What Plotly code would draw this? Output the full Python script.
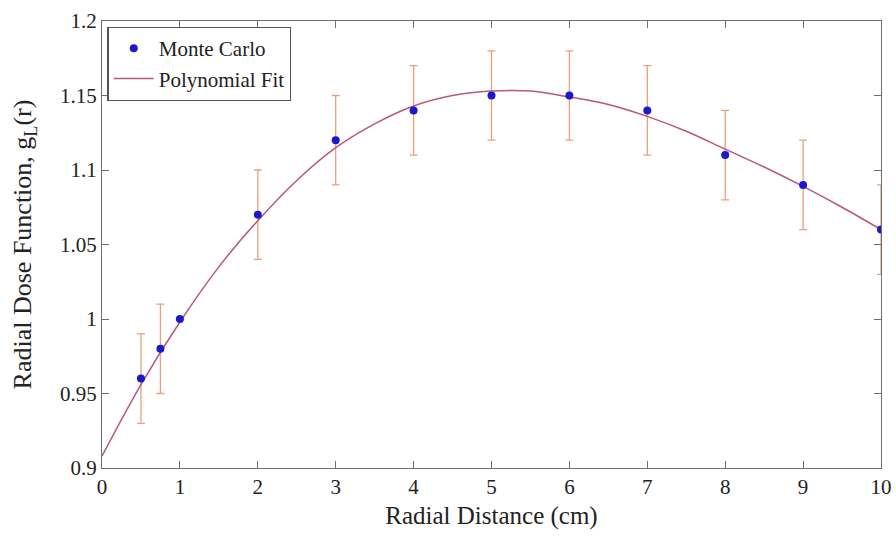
import plotly.graph_objects as go

# Monte Carlo data
mc_r = [0.5, 0.75, 1, 2, 3, 4, 5, 6, 7, 8, 9, 10]
mc_g = [0.96, 0.98, 1.00, 1.07, 1.12, 1.14, 1.15, 1.15, 1.14, 1.11, 1.09, 1.06]
mc_err = [0.03, 0.03, 0, 0.03, 0.03, 0.03, 0.03, 0.03, 0.03, 0.03, 0.03, 0.03]

# Polynomial fit curve
fit_r = [0, 0.5, 1, 1.5, 2, 2.5, 3, 3.5, 4, 4.5, 5, 5.5, 6, 6.5, 7, 7.5, 8, 8.5, 9, 9.5, 10]
fit_g = [0.908, 0.956, 0.998, 1.035, 1.066, 1.093, 1.115, 1.131, 1.143, 1.150, 1.153,
         1.153, 1.149, 1.144, 1.136, 1.126, 1.114, 1.102, 1.089, 1.075, 1.060]

x_ticks = list(range(0, 11))
y_ticks = [0.9, 0.95, 1.0, 1.05, 1.1, 1.15, 1.2]
y_tick_text = ["0.9", "0.95", "1", "1.05", "1.1", "1.15", "1.2"]

FONT = "Liberation Serif"

fig = go.Figure()
# error bars (behind)
fig.add_trace(go.Scatter(
    x=mc_r, y=mc_g, mode="markers",
    marker=dict(size=1, color="rgba(0,0,0,0)"),
    error_y=dict(type="data", array=mc_err, visible=True, color="#eba07c",
                 thickness=1.3, width=4),
    showlegend=False, hoverinfo="skip"))
# fit line
fig.add_trace(go.Scatter(
    x=fit_r, y=fit_g, mode="lines", name="Polynomial Fit",
    line=dict(color="#b8587a", width=1.5, shape="spline", smoothing=1.0),
    legendrank=2))
# markers
fig.add_trace(go.Scatter(
    x=mc_r, y=mc_g, mode="markers", name="Monte Carlo",
    marker=dict(size=8, color="#1a1acc"),
    legendrank=1))

axis_common = dict(
    showline=True, linecolor="#6e6e6e", linewidth=1.3, mirror="ticks",
    ticks="inside", ticklen=7, tickcolor="#6e6e6e", tickwidth=1,
    showgrid=False, zeroline=False, automargin=False,
    tickfont=dict(family=FONT, size=21, color="#222222"),
)

fig.update_layout(
    width=896, height=541,
    margin=dict(l=102, r=15, t=21, b=73),
    paper_bgcolor="white", plot_bgcolor="white",
    font=dict(family=FONT, color="#222222"),
    xaxis=dict(range=[0, 10], tickvals=x_ticks,
               title=dict(text="Radial Distance (cm)", font=dict(family=FONT, size=25), standoff=8),
               **axis_common),
    yaxis=dict(range=[0.9, 1.2], tickvals=y_ticks, ticktext=y_tick_text,
               title=dict(text="Radial Dose Function, g<sub>L</sub>(r)", font=dict(family=FONT, size=26), standoff=20),
               **axis_common),
    legend=dict(x=0.007, y=0.987, xanchor="left", yanchor="top",
                bordercolor="#555555", borderwidth=1.3, bgcolor="white",
                font=dict(family=FONT, size=21, color="#222222"),
                tracegroupgap=0, itemwidth=40),
    showlegend=True,
)

fig.write_html("out.html",
               config={"displayModeBar": False},
               post_script="document.body.style.margin='0';document.body.style.overflow='hidden';")
